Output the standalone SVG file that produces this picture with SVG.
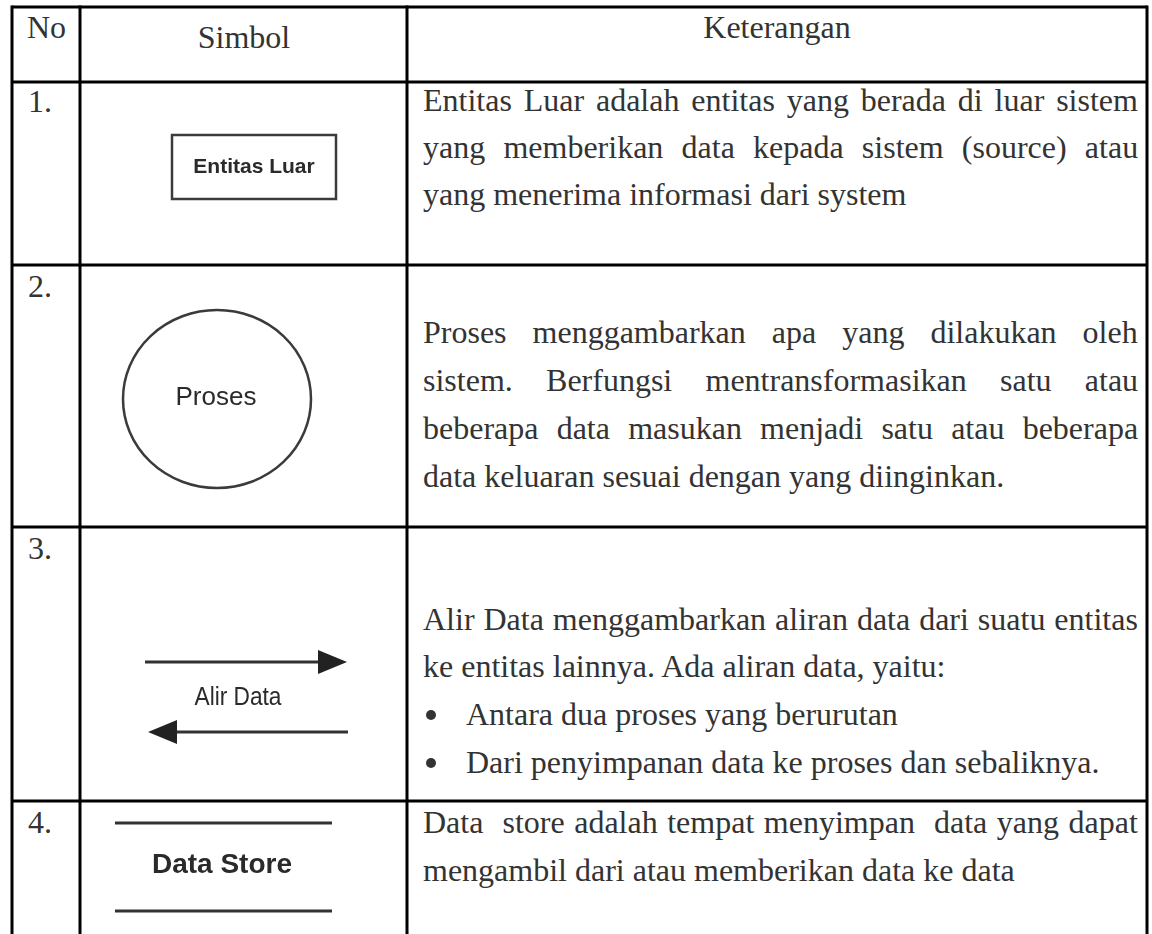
<svg xmlns="http://www.w3.org/2000/svg" width="1152" height="934" viewBox="0 0 1152 934">
<style>
.grid{stroke:#000;stroke-width:3;fill:none}
.t{font-family:"Liberation Serif","Times New Roman",serif;font-size:32px;fill:#333;white-space:pre}
.sym{stroke:#3a3a3a;stroke-width:2.5;fill:none}
.sl{font-family:"Liberation Sans",Arial,sans-serif;fill:#2a2a2a;text-anchor:middle}
</style>
<defs>
<filter id="soft" x="-5%" y="-5%" width="110%" height="110%"><feGaussianBlur stdDeviation="0.6"/></filter>
</defs>
<rect width="1152" height="934" fill="#fff"/>
<g id="table-grid" class="grid">
<line x1="12" y1="7" x2="1147" y2="7"/>
<line x1="12" y1="82" x2="1147" y2="82"/>
<line x1="12" y1="265" x2="1147" y2="265"/>
<line x1="12" y1="527" x2="1147" y2="527"/>
<line x1="12" y1="801" x2="1147" y2="801"/>
<line x1="12" y1="5.5" x2="12" y2="934"/>
<line x1="80" y1="5.5" x2="80" y2="934"/>
<line x1="407" y1="5.5" x2="407" y2="934"/>
<line x1="1147" y1="5.5" x2="1147" y2="934"/>
</g>
<g id="header">
<text class="t" x="27" y="38">No</text>
<text class="t" x="244" y="48" text-anchor="middle">Simbol</text>
<text class="t" x="777" y="38" text-anchor="middle">Keterangan</text>
</g>
<g id="row1">
<text class="t" x="28" y="112">1.</text>
<g id="entitas-luar" filter="url(#soft)">
<rect class="sym" x="172" y="135" width="164" height="64"/>
<text class="sl" x="254" y="173" font-size="21" font-weight="bold">Entitas Luar</text>
</g>
<text class="t" x="423" y="111" word-spacing="3.84">Entitas Luar adalah entitas yang berada di luar sistem</text>
<text class="t" x="423" y="158" word-spacing="10.2">yang memberikan data kepada sistem (source) atau</text>
<text class="t" x="423" y="205">yang menerima informasi dari system</text>
</g>
<g id="row2">
<text class="t" x="28" y="297">2.</text>
<g id="proses" filter="url(#soft)">
<ellipse class="sym" cx="217" cy="399" rx="94" ry="89"/>
<text class="sl" x="216" y="405" font-size="26">Proses</text>
</g>
<text class="t" x="423" y="343" word-spacing="18.0">Proses menggambarkan apa yang dilakukan oleh</text>
<text class="t" x="423" y="391" word-spacing="25.25">sistem. Berfungsi mentransformasikan satu atau</text>
<text class="t" x="423" y="439" word-spacing="10.2">beberapa data masukan menjadi satu atau beberapa</text>
<text class="t" x="423" y="487">data keluaran sesuai dengan yang diinginkan.</text>
</g>
<g id="row3">
<text class="t" x="28" y="559">3.</text>
<g id="alir-data" filter="url(#soft)">
<line x1="145" y1="662" x2="322" y2="662" stroke="#333" stroke-width="3"/>
<polygon points="318,650 347,662 318,674" fill="#222"/>
<text class="sl" x="238" y="705" font-size="25" textLength="87" lengthAdjust="spacingAndGlyphs">Alir Data</text>
<line x1="348" y1="732" x2="173" y2="732" stroke="#333" stroke-width="3"/>
<polygon points="177,720 148,732 177,744" fill="#222"/>
</g>
<text class="t" x="423" y="630" word-spacing="0.96">Alir Data menggambarkan aliran data dari suatu entitas</text>
<text class="t" x="423" y="677">ke entitas lainnya. Ada aliran data, yaitu:</text>
<circle cx="431" cy="715" r="5" fill="#333"/>
<text class="t" x="466" y="725">Antara dua proses yang berurutan</text>
<circle cx="431" cy="763" r="5" fill="#333"/>
<text class="t" x="466" y="773">Dari penyimpanan data ke proses dan sebaliknya.</text>
</g>
<g id="row4">
<text class="t" x="28" y="833">4.</text>
<g id="data-store" filter="url(#soft)">
<line x1="115" y1="823" x2="332" y2="823" stroke="#333" stroke-width="3"/>
<text class="sl" x="222" y="873" font-size="28" font-weight="bold">Data Store</text>
<line x1="115" y1="911" x2="332" y2="911" stroke="#333" stroke-width="3"/>
</g>
<text class="t" x="423" y="833" word-spacing="1.53">Data  store adalah tempat menyimpan  data yang dapat</text>
<text class="t" x="423" y="881">mengambil dari atau memberikan data ke data</text>
</g>
</svg>
